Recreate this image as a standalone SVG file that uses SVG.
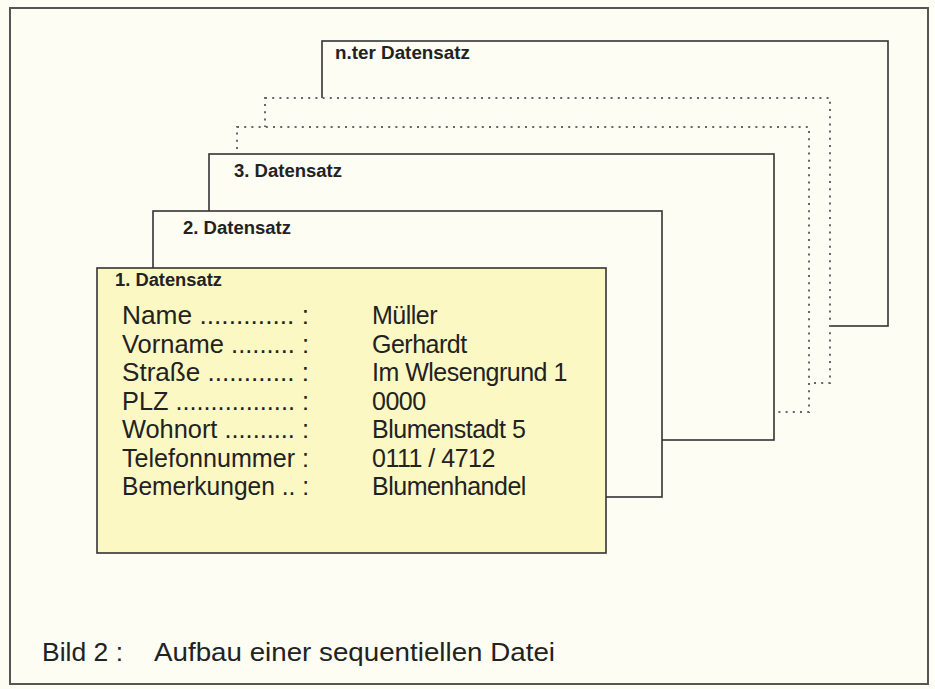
<svg xmlns="http://www.w3.org/2000/svg" width="935" height="689" viewBox="0 0 935 689">
<style>
.card{fill:#fdfdf3;stroke:#333;stroke-width:1.6}
.dot{fill:#fdfdf3;stroke:#666;stroke-width:2;stroke-dasharray:2 5.2}
.hd{font-family:"Liberation Sans",Arial,sans-serif;font-weight:bold;font-size:18px;fill:#222}
.tx{font-family:"Liberation Sans",Arial,sans-serif;font-size:25px;fill:#222}
.val{font-family:"Liberation Sans",Arial,sans-serif;font-size:25px;fill:#222;letter-spacing:-0.5px}
.cap{font-family:"Liberation Sans",Arial,sans-serif;font-size:25px;fill:#222}
</style>
<rect x="0" y="0" width="935" height="689" fill="#fdfdf3"/>
<rect x="10" y="8" width="918" height="676" fill="none" stroke="#555" stroke-width="2"/>
<g id="rec-n">
<rect class="card" x="322" y="41" width="566" height="285"/>
<text class="hd" x="335" y="59" textLength="135" lengthAdjust="spacingAndGlyphs">n.ter Datensatz</text>
</g>
<g id="rec-dots1">
<rect class="dot" x="265" y="98" width="565" height="285"/>
</g>
<g id="rec-dots2">
<rect class="dot" x="237" y="127" width="572" height="285"/>
</g>
<g id="rec-3">
<rect class="card" x="209" y="154" width="565" height="286"/>
<text class="hd" x="234" y="177" textLength="108" lengthAdjust="spacingAndGlyphs">3. Datensatz</text>
</g>
<g id="rec-2">
<rect class="card" x="153" y="211" width="509" height="286"/>
<text class="hd" x="183" y="234" textLength="108" lengthAdjust="spacingAndGlyphs">2. Datensatz</text>
</g>
<g id="rec-1">
<rect x="97" y="268" width="509" height="285" fill="#fcf8c4" stroke="#333" stroke-width="1.6"/>
<text class="hd" x="115" y="286" textLength="107" lengthAdjust="spacingAndGlyphs">1. Datensatz</text>
<text class="tx" x="122" y="324" textLength="187" lengthAdjust="spacingAndGlyphs">Name ............. :</text>
<text class="tx" x="122" y="353" textLength="187" lengthAdjust="spacingAndGlyphs">Vorname ......... :</text>
<text class="tx" x="122" y="381" textLength="187" lengthAdjust="spacingAndGlyphs">Straße ............ :</text>
<text class="tx" x="122" y="410" textLength="187" lengthAdjust="spacingAndGlyphs">PLZ ................. :</text>
<text class="tx" x="122" y="438" textLength="187" lengthAdjust="spacingAndGlyphs">Wohnort .......... :</text>
<text class="tx" x="122" y="467" textLength="187" lengthAdjust="spacingAndGlyphs">Telefonnummer :</text>
<text class="tx" x="122" y="495" textLength="187" lengthAdjust="spacingAndGlyphs">Bemerkungen .. :</text>
<text class="val" x="372" y="324">Müller</text>
<text class="val" x="372" y="353">Gerhardt</text>
<text class="val" x="372" y="381">Im Wlesengrund 1</text>
<text class="val" x="372" y="410">0000</text>
<text class="val" x="372" y="438">Blumenstadt 5</text>
<text class="val" x="372" y="467">0111 / 4712</text>
<text class="val" x="372" y="495">Blumenhandel</text>
</g>
<g id="caption">
<text class="cap" x="42" y="661" textLength="81" lengthAdjust="spacingAndGlyphs">Bild 2 :</text>
<text class="cap" x="154" y="661" textLength="401" lengthAdjust="spacingAndGlyphs">Aufbau einer sequentiellen  Datei</text>
</g>
</svg>
